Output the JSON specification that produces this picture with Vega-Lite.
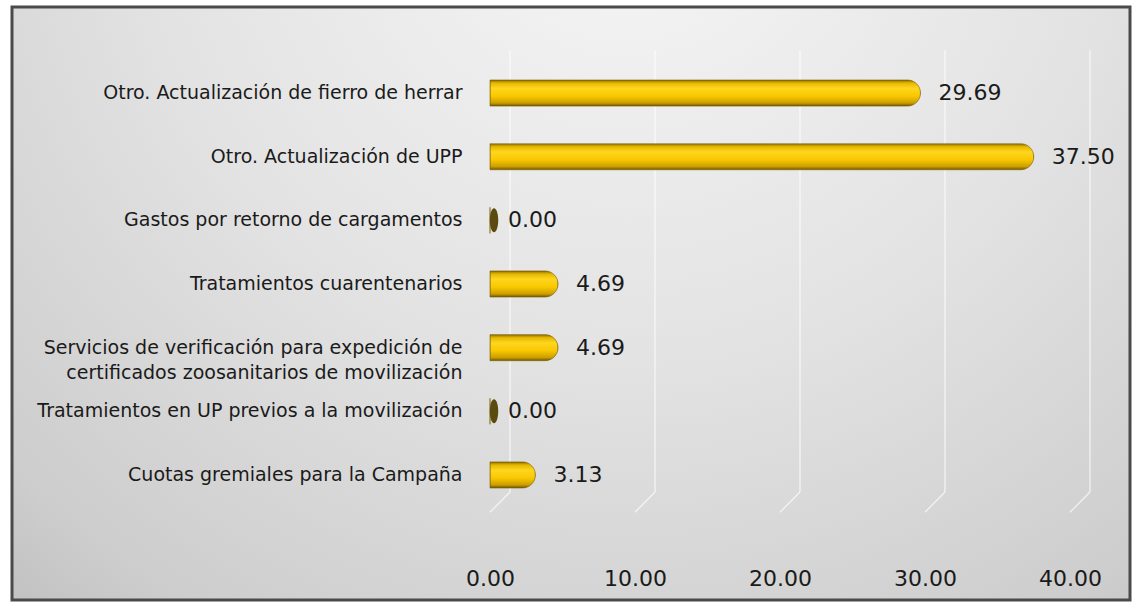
{
  "$schema": "https://vega.github.io/schema/vega-lite/v6.json",
  "width": 1118,
  "height": 593,
  "autosize": {"type": "none"},
  "padding": {"left": 12, "top": 7, "right": 8, "bottom": 5},
  "background": "white",
  "config": {
    "font": "DejaVu Sans",
    "view": {
      "fill": {
        "gradient": "radial",
        "x1": 0.55, "y1": 0.12, "r1": 0,
        "x2": 0.55, "y2": 0.12, "r2": 0.95,
        "stops": [
          {"offset": 0, "color": "#f7f7f7"},
          {"offset": 0.45, "color": "#e3e3e3"},
          {"offset": 0.8, "color": "#cdcdcd"},
          {"offset": 1, "color": "#b5b5b5"}
        ]
      },
      "stroke": "#4a4a4a",
      "strokeWidth": 3
    }
  },
  "datasets": {
    "bars": [
      {"cat": "Otro. Actualización de fierro de herrar", "value": 29.69},
      {"cat": "Otro. Actualización de UPP", "value": 37.50},
      {"cat": "Gastos por retorno de cargamentos", "value": 0},
      {"cat": "Tratamientos cuarentenarios", "value": 4.69},
      {"cat": "Servicios de verificación para expedición de\ncertificados zoosanitarios de movilización", "value": 4.69},
      {"cat": "Tratamientos en UP previos a la movilización", "value": 0},
      {"cat": "Cuotas gremiales para la Campaña", "value": 3.13}
    ],
    "grid": [{"v": 0}, {"v": 10}, {"v": 20}, {"v": 30}, {"v": 40}]
  },
  "resolve": {"scale": {"y": "independent"}, "axis": {"y": "independent"}},
  "layer": [
    {
      "data": {"name": "grid"},
      "layer": [
        {
          "mark": {"type": "rule", "color": "#ffffff", "strokeWidth": 1.3, "opacity": 0.7, "xOffset": 20, "x2Offset": 20},
          "encoding": {
            "x": {
              "field": "v", "type": "quantitative",
              "scale": {"domain": [-32.97, 44.14], "nice": false, "zero": false},
              "axis": {
                "orient": "bottom",
                "values": [0, 10, 20, 30, 40], "format": ".2f", "title": null,
                "domain": false, "ticks": false, "tickSize": 0, "grid": false,
                "labelPadding": 0, "offset": -22, "labelBaseline": "middle",
                "labelFontSize": 22, "labelColor": "#1a1a1a"
              }
            },
            "y": {"datum": 92.7, "type": "quantitative", "scale": {"domain": [0, 100], "nice": false, "zero": false}, "axis": null},
            "y2": {"datum": 18.2}
          }
        },
        {
          "mark": {"type": "rule", "color": "#ffffff", "strokeWidth": 1.3, "opacity": 0.7, "xOffset": 20, "x2Offset": 0},
          "encoding": {
            "x": {"field": "v", "type": "quantitative"},
            "x2": {"field": "v"},
            "y": {"datum": 18.2, "type": "quantitative"},
            "y2": {"datum": 14.8}
          }
        }
      ]
    },
    {
      "data": {"name": "bars"},
      "layer": [
        {
          "mark": {
            "type": "bar",
            "cornerRadiusEnd": 13,
            "stroke": "#7a5e00",
            "strokeWidth": 0.6,
            "x2Offset": 7,
            "color": {
              "gradient": "linear",
              "x1": 0, "y1": 0, "x2": 0, "y2": 1,
              "stops": [
                {"offset": 0, "color": "#8c6d00"},
                {"offset": 0.12, "color": "#e6b800"},
                {"offset": 0.32, "color": "#ffd61f"},
                {"offset": 0.62, "color": "#f8c800"},
                {"offset": 0.88, "color": "#cc9e00"},
                {"offset": 1, "color": "#6e5500"}
              ]
            }
          },
          "encoding": {
            "y": {
              "field": "cat", "type": "nominal", "sort": null,
              "scale": {"range": [73, 481], "paddingInner": 0.59, "paddingOuter": 0, "align": 0.5},
              "axis": {
                "orient": "left",
                "title": null, "domain": false, "ticks": false, "tickSize": 0,
                "labelPadding": 0, "offset": -450, "labelLimit": 600,
                "labelFontSize": 19, "labelColor": "#1a1a1a", "labelLineHeight": 25,
                "labelExpr": "split(datum.value, '\\n')"
              }
            },
            "x": {"field": "value", "type": "quantitative"}
          }
        },
        {
          "transform": [{"filter": "datum.value == 0"}],
          "mark": {
            "type": "point", "filled": true, "color": "#5b4a0f", "opacity": 1,
            "shape": "M0,-1A0.35,1,0,1,1,0,1A0.35,1,0,1,1,0,-1Z",
            "size": 576, "xOffset": 4
          },
          "encoding": {
            "y": {"field": "cat", "type": "nominal", "sort": null},
            "x": {"field": "value", "type": "quantitative"}
          }
        },
        {
          "mark": {"type": "text", "align": "left", "baseline": "middle", "dx": 18, "fontSize": 22, "color": "#1a1a1a"},
          "encoding": {
            "y": {"field": "cat", "type": "nominal", "sort": null},
            "x": {"field": "value", "type": "quantitative"},
            "text": {"field": "value", "type": "quantitative", "format": ".2f"}
          }
        }
      ]
    }
  ]
}
